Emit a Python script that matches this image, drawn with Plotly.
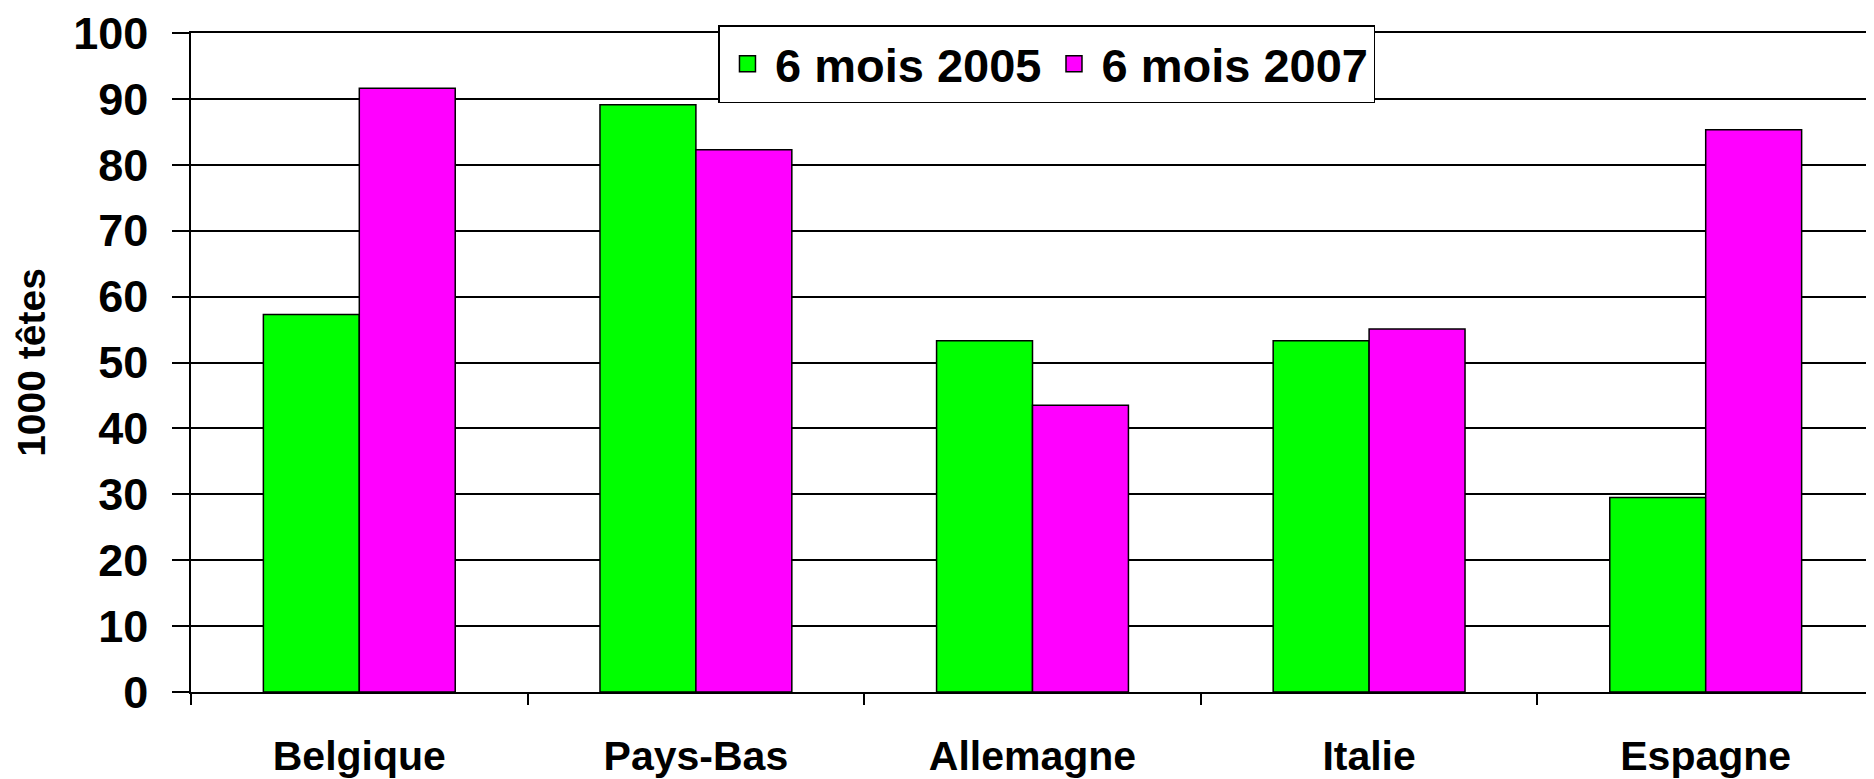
import plotly.graph_objects as go

categories = ["Belgique", "Pays-Bas", "Allemagne", "Italie", "Espagne"]
series_names = ["6 mois 2005", "6 mois 2007"]
values_2005 = [57.3, 89.1, 53.3, 53.3, 29.5]
values_2007 = [91.6, 82.3, 43.5, 55.1, 85.3]
colors = ["#00FF00", "#FF00FF"]
y_ticks = [0, 10, 20, 30, 40, 50, 60, 70, 80, 90, 100]

FONT = "Liberation Sans, Arial, sans-serif"

fig = go.Figure()
for name, vals, col in zip(series_names, [values_2005, values_2007], colors):
    fig.add_trace(go.Bar(
        x=categories, y=vals, name=name, showlegend=False,
        marker=dict(color=col, line=dict(color="black", width=1.5)),
        hoverinfo="x+y+name",
    ))
# legend entries with larger square symbols
for name, col in zip(series_names, colors):
    fig.add_trace(go.Scatter(
        x=[None], y=[None], mode="markers", name=name,
        marker=dict(symbol="square", size=16, color=col,
                    line=dict(color="black", width=1.5)),
    ))

# the page body adds an 8px offset; figure is sized so the plot fills the window
fig.update_layout(
    width=1866, height=771,
    margin=dict(l=183, r=0, t=24, b=84),
    paper_bgcolor="white", plot_bgcolor="white",
    barmode="group", bargap=0.43, bargroupgap=0,
    font=dict(family=FONT, color="black"),
    legend=dict(
        orientation="h", x=0.5086, xanchor="center", y=1.012, yanchor="top",
        bgcolor="white", bordercolor="black", borderwidth=1.5,
        font=dict(size=47, family=FONT, color="black", weight="bold"),
        itemsizing="trace", itemwidth=45, tracegroupgap=0,
    ),
)
fig.update_xaxes(
    type="category", showline=True, mirror=True, linecolor="black", linewidth=1.5,
    ticks="outside", tickson="boundaries", ticklen=11, tickwidth=1.5, tickcolor="black",
    tickfont=dict(size=41, family=FONT, color="black", weight="bold"),
    ticklabelstandoff=27, showgrid=False,
)
fig.update_yaxes(
    range=[0, 100], tickvals=y_ticks, showline=True, linecolor="black", linewidth=1.5,
    ticks="outside", ticklen=17, tickwidth=1.5, tickcolor="black",
    showgrid=True, gridcolor="black", gridwidth=1.5, zeroline=False,
    tickfont=dict(size=45, family=FONT, color="black", weight="bold"),
    ticklabelstandoff=15, ticklabeloverflow="allow",
    title=dict(text="1000 têtes", standoff=16,
               font=dict(size=39, family=FONT, color="black", weight="bold")),
)

fig.write_html("out.html")
